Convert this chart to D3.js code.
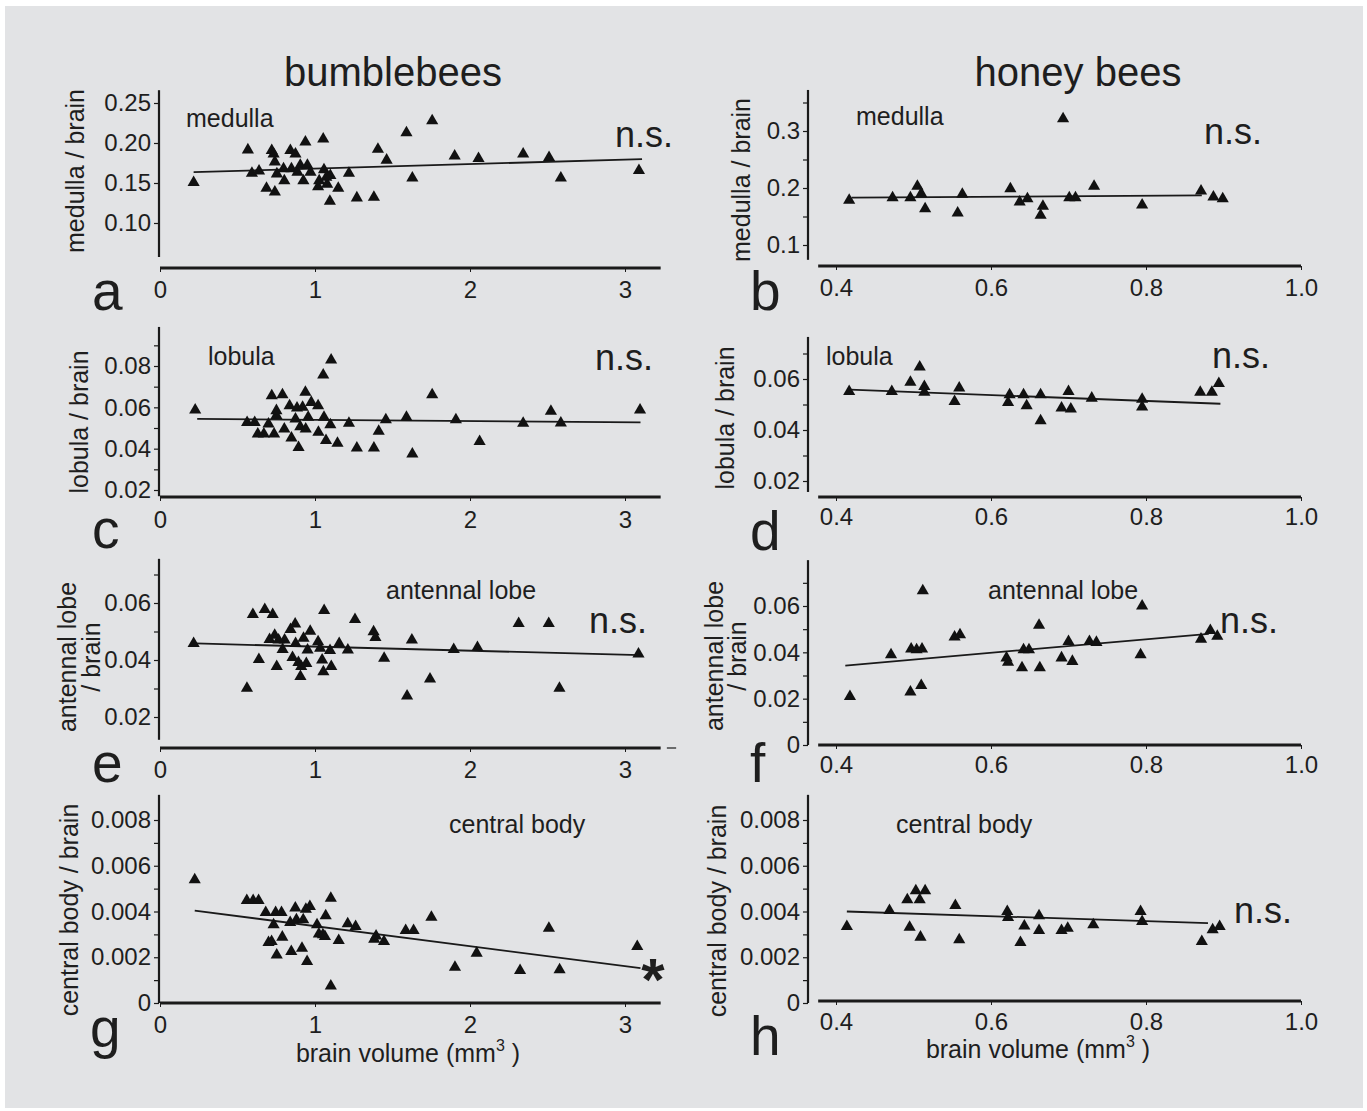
<!DOCTYPE html>
<html><head><meta charset="utf-8">
<script src="https://cdn.jsdelivr.net/npm/d3@7"></script>
<style>body{margin:0;background:#fff}svg{display:block}text{font-family:"Liberation Sans",Arial,Helvetica,sans-serif;fill:#1e1e1e}</style>
</head><body><svg id="c" width="1367" height="1111"></svg>
<script>
// ---------- DATA ----------
const columnTitles = ["bumblebees", "honey bees"];
const panelLetters = ["a","b","c","d","e","f","g","h"];
const regionNames = ["medulla","medulla","lobula","lobula","antennal lobe","antennal lobe","central body","central body"];
const significance = ["n.s.","n.s.","n.s.","n.s.","n.s.","n.s.","*","n.s."];
const xAxisTitle = "brain volume (mm";

const bumbleXTicks = [0, 1, 2, 3];
const bumbleXTickLabels = ["0", "1", "2", "3"];
const honeyXTicks = [0.4, 0.6, 0.8, 1.0];
const honeyXTickLabels = ["0.4", "0.6", "0.8", "1.0"];

const aYTicks = [0.10, 0.15, 0.20, 0.25];
const aYTickLabels = ["0.10", "0.15", "0.20", "0.25"];
const bYTicks = [0.1, 0.2, 0.3];
const bYTickLabels = ["0.1", "0.2", "0.3"];
const bYMinor = [0.15, 0.25, 0.35];
const cYTicks = [0.02, 0.04, 0.06, 0.08];
const cYTickLabels = ["0.02", "0.04", "0.06", "0.08"];
const cYMinor = [0.03, 0.05, 0.07, 0.09];
const dYTicks = [0.02, 0.04, 0.06];
const dYTickLabels = ["0.02", "0.04", "0.06"];
const dYMinor = [0.03, 0.05, 0.07];
const eYTicks = [0.02, 0.04, 0.06];
const eYTickLabels = ["0.02", "0.04", "0.06"];
const eYMinor = [0.03, 0.05, 0.07];
const fYTicks = [0, 0.02, 0.04, 0.06];
const fYTickLabels = ["0", "0.02", "0.04", "0.06"];
const fYMinor = [0.01, 0.03, 0.05, 0.07];
const ghYTicks = [0, 0.002, 0.004, 0.006, 0.008];
const ghYTickLabels = ["0", "0.002", "0.004", "0.006", "0.008"];
const ghYMinor = [0.001, 0.003, 0.005, 0.007];

// a: bumblebee medulla / brain
const aVolume = [0.217,0.567,0.593,0.639,0.687,0.721,0.733,0.741,0.741,0.754,0.797,0.802,0.841,0.874,0.848,0.887,0.905,0.925,0.938,0.951,0.971,1.020,1.027,1.053,1.058,1.073,1.078,1.099,1.096,1.150,1.219,1.270,1.380,1.406,1.462,1.590,1.628,1.756,1.901,2.055,2.343,2.510,2.586,3.090];
const aRatio  = [0.1507,0.1914,0.1623,0.1649,0.1434,0.1906,0.1863,0.1764,0.1387,0.1614,0.1679,0.1529,0.1906,0.1863,0.1679,0.1636,0.1721,0.1529,0.2013,0.1721,0.1636,0.1452,0.1529,0.2051,0.1666,0.1572,0.1486,0.1593,0.1272,0.1434,0.1623,0.1314,0.1323,0.1923,0.1786,0.2129,0.1563,0.2279,0.1837,0.1807,0.1863,0.1820,0.1563,0.1657];
const aFit = [[0.217, 0.1636], [3.11, 0.1799]];

// b: honey bee medulla / brain
const bVolume = [0.417,0.473,0.496,0.505,0.510,0.515,0.557,0.563,0.625,0.637,0.647,0.664,0.667,0.693,0.701,0.709,0.733,0.795,0.871,0.887,0.899];
const bRatio  = [0.1784,0.1830,0.1830,0.2029,0.1901,0.1637,0.1561,0.1889,0.1988,0.1754,0.1813,0.1520,0.1678,0.3216,0.1830,0.1830,0.2029,0.1702,0.1947,0.1842,0.1813];
const bFit = [[0.42, 0.1830], [0.872, 0.1870]];

// c: bumblebee lobula / brain
const cVolume = [0.227,0.562,0.611,0.631,0.670,0.700,0.721,0.736,0.751,0.751,0.790,0.802,0.836,0.848,0.874,0.884,0.894,0.905,0.920,0.938,0.940,0.956,0.976,1.020,1.022,1.053,1.058,1.071,1.099,1.104,1.145,1.219,1.270,1.380,1.411,1.457,1.590,1.628,1.756,1.909,2.062,2.343,2.522,2.586,3.097];
const cRatio  = [0.0587,0.0527,0.0527,0.0471,0.0471,0.0519,0.0656,0.0471,0.0560,0.0584,0.0661,0.0495,0.0608,0.0452,0.0544,0.0597,0.0406,0.0506,0.0600,0.0673,0.0495,0.0552,0.0624,0.0608,0.0479,0.0756,0.0552,0.0439,0.0516,0.0829,0.0426,0.0523,0.0403,0.0403,0.0484,0.0540,0.0552,0.0374,0.0661,0.0540,0.0435,0.0523,0.0581,0.0524,0.0587];
const cFit = [[0.24, 0.0544], [3.10, 0.0527]];

// d: honey bee lobula / brain
const dVolume = [0.417,0.472,0.496,0.508,0.514,0.514,0.553,0.559,0.624,0.622,0.642,0.646,0.664,0.664,0.691,0.700,0.703,0.730,0.795,0.795,0.870,0.885,0.894];
const dRatio  = [0.0551,0.0551,0.0587,0.0647,0.0571,0.0548,0.0512,0.0565,0.0538,0.0508,0.0538,0.0495,0.0538,0.0436,0.0486,0.0551,0.0482,0.0525,0.0521,0.0490,0.0548,0.0548,0.0582];
const dFit = [[0.418, 0.0558], [0.896, 0.0503]];

// e: bumblebee antennal lobe / brain
const eVolume = [0.217,0.561,0.599,0.638,0.676,0.707,0.727,0.740,0.753,0.765,0.791,0.804,0.842,0.855,0.872,0.875,0.893,0.906,0.911,0.926,0.944,0.952,0.969,1.020,1.033,1.046,1.054,1.059,1.097,1.105,1.156,1.212,1.258,1.378,1.390,1.446,1.625,1.594,1.742,1.895,2.048,2.314,2.508,2.577,3.087];
const eRatio  = [0.0458,0.0301,0.0560,0.0402,0.0577,0.0472,0.0560,0.0487,0.0377,0.0470,0.0437,0.0470,0.0507,0.0409,0.0526,0.0458,0.0391,0.0342,0.0377,0.0476,0.0388,0.0435,0.0501,0.0464,0.0441,0.0400,0.0359,0.0574,0.0433,0.0377,0.0458,0.0435,0.0542,0.0499,0.0479,0.0406,0.0470,0.0274,0.0333,0.0437,0.0444,0.0528,0.0528,0.0301,0.0421];
const eFit = [[0.23, 0.0458], [3.10, 0.0417]];

// f: honey bee antennal lobe / brain
const fVolume = [0.418,0.471,0.496,0.497,0.504,0.510,0.511,0.512,0.553,0.560,0.620,0.622,0.640,0.642,0.649,0.662,0.663,0.691,0.700,0.705,0.727,0.736,0.795,0.793,0.871,0.883,0.892];
const fRatio  = [0.0209,0.0390,0.0229,0.0414,0.0411,0.0257,0.0414,0.0666,0.0466,0.0476,0.0376,0.0357,0.0333,0.0411,0.0411,0.0517,0.0333,0.0376,0.0447,0.0361,0.0447,0.0443,0.0600,0.0390,0.0457,0.0494,0.0469];
const fFit = [[0.412, 0.0343], [0.881, 0.0480]];

// g: bumblebee central body / brain
const gVolume = [0.224,0.560,0.601,0.636,0.682,0.700,0.720,0.733,0.746,0.753,0.784,0.789,0.840,0.847,0.873,0.880,0.916,0.924,0.941,0.949,0.967,1.013,1.025,1.051,1.064,1.069,1.102,1.102,1.153,1.211,1.262,1.382,1.394,1.445,1.585,1.636,1.751,1.903,2.043,2.323,2.509,2.578,3.079];
const gRatio  = [0.00539,0.00448,0.00448,0.00448,0.00396,0.00264,0.00269,0.00342,0.00396,0.00210,0.00396,0.00288,0.00352,0.00225,0.00415,0.00364,0.00239,0.00364,0.00410,0.00181,0.00422,0.00342,0.00302,0.00298,0.00291,0.00381,0.00458,0.00074,0.00273,0.00346,0.00334,0.00279,0.00293,0.00269,0.00317,0.00317,0.00375,0.00156,0.00218,0.00142,0.00327,0.00145,0.00247];
const gFit = [[0.224, 0.00404], [3.10, 0.00152]];

// h: honey bee central body / brain
const hVolume = [0.414,0.469,0.492,0.495,0.503,0.508,0.509,0.515,0.554,0.559,0.621,0.622,0.638,0.643,0.662,0.662,0.691,0.699,0.732,0.793,0.795,0.872,0.886,0.895];
const hRatio  = [0.00334,0.00404,0.00451,0.00331,0.00491,0.00451,0.00288,0.00491,0.00426,0.00276,0.00400,0.00374,0.00264,0.00337,0.00381,0.00317,0.00317,0.00327,0.00342,0.00400,0.00356,0.00269,0.00320,0.00334];
const hFit = [[0.414, 0.00400], [0.880, 0.00349]];

// ---------- LAYOUT ----------
const svg = d3.select("#c");
const INK = "#1a1a1a";
svg.append("rect").attr("width",1367).attr("height",1111).attr("fill","#fff");
svg.append("rect").attr("x",5).attr("y",6).attr("width",1358).attr("height",1102).attr("fill","#e2e3e5");

const L = {xd:[0,3], xr:[160,625], xAxisEnd:3.23, yAxisX:159, xTicks:bumbleXTicks, xLabels:bumbleXTickLabels};
const R = {xd:[0.4,1.0], xr:[836,1301], xAxisEnd:1.0, xAxisStart:0.377, yAxisX:808, xTicks:honeyXTicks, xLabels:honeyXTickLabels};

const panels = [
 {side:L, xs:aVolume, ys:aRatio, fit:aFit, yd:[0.10,0.25], yr:[223,103], yExt:[0.0575,0.266], axY:268, xLabY:298, yT:aYTicks, yTL:aYTickLabels, yM:[],
  ylab:["medulla / brain"], ylabX:[84], ylabY:171, letter:[92,310], name:[186,127], sig:[615,147]},
 {side:R, xs:bVolume, ys:bRatio, fit:bFit, yd:[0.1,0.3], yr:[245,131], yExt:[0.074,0.372], axY:266, xLabY:296, yT:bYTicks, yTL:bYTickLabels, yM:bYMinor,
  ylab:["medulla / brain"], ylabX:[750], ylabY:180, letter:[750,310], name:[856,125], sig:[1204,144]},
 {side:L, xs:cVolume, ys:cRatio, fit:cFit, yd:[0.02,0.08], yr:[490,366], yExt:[0.017,0.0989], axY:497, xLabY:528, yT:cYTicks, yTL:cYTickLabels, yM:cYMinor,
  ylab:["lobula / brain"], ylabX:[88], ylabY:422, letter:[92,548], name:[208,365], sig:[595,370]},
 {side:R, xs:dVolume, ys:dRatio, fit:dFit, yd:[0.02,0.06], yr:[481,379], yExt:[0.0157,0.0765], axY:497, xLabY:525, yT:dYTicks, yTL:dYTickLabels, yM:dYMinor,
  ylab:["lobula / brain"], ylabX:[734], ylabY:418, letter:[750,550], name:[826,365], sig:[1212,368]},
 {side:L, xs:eVolume, ys:eRatio, fit:eFit, yd:[0.02,0.06], yr:[717,603], yExt:[0.012,0.0755], axY:748, xLabY:778, yT:eYTicks, yTL:eYTickLabels, yM:eYMinor,
  ylab:["antennal lobe","/ brain"], ylabX:[76,100], ylabY:657, letter:[92,782], name:[386,599], sig:[589,633], tailDash:true},
 {side:R, xs:fVolume, ys:fRatio, fit:fFit, yd:[0,0.06], yr:[745,606], yExt:[0,0.0798], axY:745, xLabY:773, yT:fYTicks, yTL:fYTickLabels, yM:fYMinor,
  ylab:["antennal lobe","/ brain"], ylabX:[723,746], ylabY:656, letter:[750,782], name:[988,599], sig:[1220,633]},
 {side:L, xs:gVolume, ys:gRatio, fit:gFit, yd:[0,0.008], yr:[1003,820], yExt:[0,0.0091], axY:1003, xLabY:1033, yT:ghYTicks, yTL:ghYTickLabels, yM:ghYMinor,
  ylab:["central body / brain"], ylabX:[78], ylabY:910, letter:[90,1047], name:[449,833], sig:[653,1000], star:true, xTitle:[408,1062]},
 {side:R, xs:hVolume, ys:hRatio, fit:hFit, yd:[0,0.008], yr:[1003,820], yExt:[0,0.0091], axY:1001, xLabY:1030, yT:ghYTicks, yTL:ghYTickLabels, yM:ghYMinor,
  ylab:["central body / brain"], ylabX:[726], ylabY:911, letter:[750,1055], name:[896,833], sig:[1234,923], xTitle:[1038,1058]}
];

// column titles
svg.append("text").attr("x",393).attr("y",86).attr("text-anchor","middle").attr("font-size",40).text(columnTitles[0]);
svg.append("text").attr("x",1078).attr("y",86).attr("text-anchor","middle").attr("font-size",40).text(columnTitles[1]);

const tri = d3.symbol().type(d3.symbolTriangle).size(64);

panels.forEach((p, i) => {
  const s = p.side;
  const x = d3.scaleLinear().domain(s.xd).range(s.xr);
  const y = d3.scaleLinear().domain(p.yd).range(p.yr);
  const g = svg.append("g");

  // y axis line
  g.append("line").attr("x1",s.yAxisX).attr("x2",s.yAxisX)
    .attr("y1",y(p.yExt[0])).attr("y2",y(p.yExt[1])).attr("stroke",INK).attr("stroke-width",2.2);
  // y ticks via d3 axis
  const labelMap = new Map(p.yT.map((v,k)=>[v,p.yTL[k]]));
  const yAx = d3.axisLeft(y).tickValues(p.yT.concat(p.yM)).tickSize(5).tickPadding(3)
     .tickFormat(v => labelMap.has(v) ? labelMap.get(v) : "");
  const ya = g.append("g").attr("transform",`translate(${s.yAxisX},0)`).call(yAx);
  ya.select(".domain").remove();
  ya.selectAll("line").attr("stroke",INK).attr("stroke-width",1.2);
  ya.selectAll("text").attr("font-size",24).attr("fill","#1e1e1e").attr("font-family",'"Liberation Sans",Arial,sans-serif');

  // x axis line
  const xStart = s.xAxisStart !== undefined ? x(s.xAxisStart) : x(0);
  g.append("line").attr("x1",xStart).attr("x2",x(s.xAxisEnd)).attr("y1",p.axY).attr("y2",p.axY)
    .attr("stroke",INK).attr("stroke-width",3);
  if (p.tailDash) g.append("line").attr("x1",x(3.27)).attr("x2",x(3.33)).attr("y1",p.axY).attr("y2",p.axY).attr("stroke",INK).attr("stroke-width",1.2);
  const xLab = new Map(s.xTicks.map((v,k)=>[v,s.xLabels[k]]));
  const xAx = d3.axisBottom(x).tickValues(s.xTicks).tickSize(4).tickFormat(v=>xLab.get(v));
  const xa = g.append("g").attr("transform",`translate(0,${p.axY})`).call(xAx);
  xa.select(".domain").remove();
  xa.selectAll("line").attr("stroke",INK).attr("stroke-width",1);
  xa.selectAll("text").attr("font-size",24).attr("dy",0).attr("y",p.xLabY - p.axY).attr("fill","#1e1e1e")
    .attr("font-family",'"Liberation Sans",Arial,sans-serif');

  // regression line
  g.append("line").attr("x1",x(p.fit[0][0])).attr("y1",y(p.fit[0][1]))
    .attr("x2",x(p.fit[1][0])).attr("y2",y(p.fit[1][1])).attr("stroke",INK).attr("stroke-width",1.8);

  // points
  g.selectAll("path.pt").data(p.xs.map((v,k)=>[v,p.ys[k]])).enter().append("path").attr("class","pt")
    .attr("d",tri).attr("transform",d=>`translate(${x(d[0])},${y(d[1])})`).attr("fill","#111");

  // y label (rotated)
  p.ylab.forEach((t,k)=>{
    g.append("text").attr("transform",`translate(${p.ylabX[k]},${p.ylabY}) rotate(-90)`)
      .attr("text-anchor","middle").attr("font-size",25).text(t);
  });
  // panel letter
  g.append("text").attr("x",p.letter[0]).attr("y",p.letter[1]).attr("font-size",55).text(panelLetters[i]);
  // region name
  g.append("text").attr("x",p.name[0]).attr("y",p.name[1]).attr("font-size",25).text(regionNames[i]);
  // significance
  if (p.star) {
    g.append("text").attr("x",p.sig[0]).attr("y",p.sig[1]).attr("text-anchor","middle")
      .attr("font-size",60).attr("font-weight","bold").text(significance[i]);
  } else {
    g.append("text").attr("x",p.sig[0]).attr("y",p.sig[1]).attr("font-size",36).text(significance[i]);
  }
  // x axis title
  if (p.xTitle) {
    const t = g.append("text").attr("x",p.xTitle[0]).attr("y",p.xTitle[1]).attr("text-anchor","middle").attr("font-size",25);
    t.append("tspan").text(xAxisTitle);
    t.append("tspan").attr("font-size",16).attr("dy",-11).text("3");
    t.append("tspan").attr("dy",11).text(" )");
  }
});
</script></body></html>
